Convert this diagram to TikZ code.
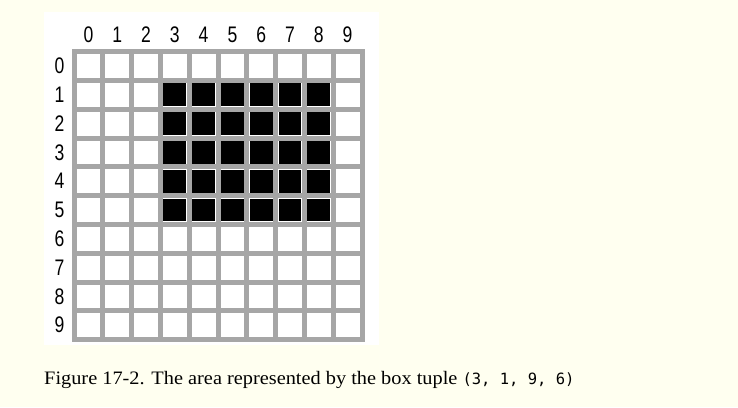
\documentclass[tikz,border=0pt]{standalone}
\usepackage{fontspec}
\setmainfont{Liberation Serif}
\newfontfamily\captionfont[FakeStretch=1.07]{Liberation Serif}
\newfontfamily\labelfont[FakeStretch=0.78]{Liberation Sans}
\newfontfamily\codefont{DejaVu Sans Mono}
\definecolor{cream}{HTML}{FFFFF0}
\definecolor{gridgray}{HTML}{A6A6A6}
\tikzset{
  cellbox/.style={draw=none, fill=white, minimum width=23.8pt, minimum height=23.8pt, inner sep=0pt, outer sep=0pt},
  filledbox/.style={cellbox, fill=black},
  axislabel/.style={font=\labelfont\fontsize{22.5}{22.5}\selectfont, inner sep=0pt, text=black},
}
\begin{document}
\begin{tikzpicture}[x=1pt,y=-1pt]
\fill[cream] (0,0) rectangle (738,407);
\useasboundingbox (0,0) rectangle (738,407);
\fill[white] (44,12) rectangle (379,345);
\node[fill=gridgray, minimum width=293pt, minimum height=293pt, inner sep=0pt, anchor=north west] (grid) at (71.5,49) {};
\foreach \i in {0,...,9}{
  \node[axislabel] (col\i) at ({88.4+28.8*\i},35) {\i};
  \node[axislabel] (row\i) at (59.5,{66+28.8*\i}) {\i};
  \foreach \j in {0,...,9}{
    \node[cellbox] (c\i-\j) at ({88.4+28.8*\i},{66+28.8*\j}) {};
  }
}
\foreach \i in {3,...,8}{
  \foreach \j in {1,...,5}{
    \node[filledbox, minimum width=22.8pt, minimum height=22.8pt] (b\i-\j) at ({88.4+28.8*\i},{66+28.8*\j}) {};
  }
}
\node[anchor=base west, inner sep=0pt, font=\captionfont\fontsize{19}{19}\selectfont] (caption) at (44,384)
  {Figure 17-2. The area represented by the box tuple {\codefont\fontsize{15.5}{15.5}\selectfont (3, 1, 9, 6)}};
\end{tikzpicture}
\end{document}
